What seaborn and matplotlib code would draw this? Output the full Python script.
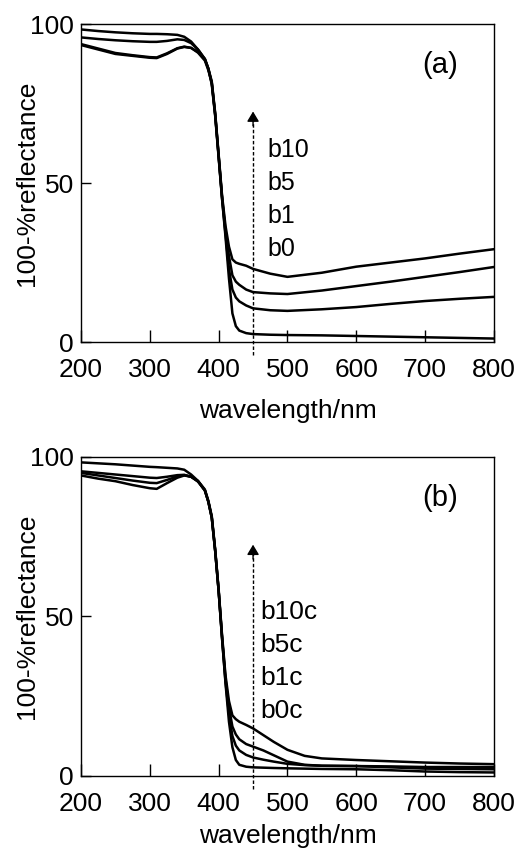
import matplotlib
matplotlib.use("Agg")
import matplotlib.pyplot as plt
import seaborn as sns
import pandas as pd

# ---------------- data ----------------
wl_a = [200, 225, 250, 275, 300, 310, 325, 340, 350, 360, 370, 380, 385, 390, 395, 400,
        405, 410, 415, 420, 425, 430, 440, 450, 475, 500, 550, 600, 650, 700, 750, 800]
b0 = [98.3, 97.8, 97.4, 97.1, 96.9, 96.9, 96.8, 96.6, 96.0, 94.5, 92.0, 89.0, 86.0, 81.0, 71.0, 58.0,
      45.0, 33.0, 20.0, 9.0, 5.0, 3.6, 2.8, 2.5, 2.3, 2.2, 2.1, 1.9, 1.7, 1.5, 1.3, 1.1]
b1 = [95.8, 95.3, 94.9, 94.6, 94.4, 94.4, 94.7, 95.2, 95.0, 94.0, 92.0, 89.0, 86.0, 81.5, 71.5, 58.5,
      45.0, 34.0, 23.0, 16.5, 14.0, 12.8, 11.5, 10.6, 10.0, 9.8, 10.3, 11.0, 12.0, 12.9, 13.6, 14.2]
b5 = [93.7, 92.3, 90.9, 90.2, 89.6, 89.5, 90.8, 92.4, 92.9, 92.5, 91.0, 88.5, 85.5, 81.5, 71.5, 58.5,
      45.5, 35.0, 27.0, 21.0, 19.0, 18.0, 16.5, 15.7, 15.3, 15.1, 16.2, 17.6, 19.0, 20.5, 22.0, 23.6]
b10 = [93.4, 92.0, 90.6, 90.0, 89.4, 89.3, 90.6, 92.3, 92.8, 92.5, 91.2, 89.0, 86.0, 82.0, 72.0, 59.0,
       46.0, 36.5, 30.0, 26.0, 25.0, 24.6, 24.0, 23.0, 21.5, 20.5, 21.8, 23.7, 25.0, 26.3, 27.8, 29.2]

wl_b = [200, 225, 250, 275, 300, 310, 325, 340, 350, 360, 370, 380, 385, 390, 395, 400, 405, 410,
        415, 420, 425, 430, 440, 450, 465, 480, 500, 525, 550, 600, 650, 700, 750, 800]
b0c = [98.3, 98.0, 97.7, 97.3, 96.9, 96.8, 96.6, 96.4, 96.0, 94.5, 92.5, 89.5, 86.0, 81.0, 70.5, 58.0, 43.0, 29.0,
       17.0, 9.0, 5.0, 3.5, 2.9, 2.7, 2.6, 2.5, 2.4, 2.3, 2.2, 2.1, 1.8, 1.4, 1.2, 1.1]
b1c = [95.5, 95.0, 94.5, 94.0, 93.5, 93.4, 93.8, 94.3, 94.4, 93.8, 92.3, 89.5, 86.0, 81.0, 70.5, 58.0, 43.0, 29.5,
       19.5, 12.5, 9.5, 8.0, 6.6, 5.8, 5.1, 4.5, 3.8, 3.4, 3.2, 3.1, 2.7, 2.3, 2.2, 2.1]
b5c = [95.0, 94.2, 93.4, 92.6, 91.9, 91.8, 92.8, 93.9, 94.3, 93.8, 92.3, 89.5, 86.0, 81.0, 70.5, 58.0, 43.5, 30.5,
       21.5, 15.5, 13.0, 11.5, 10.0, 9.2, 8.0, 6.5, 4.5, 3.5, 3.2, 3.1, 3.0, 2.8, 2.8, 2.8]
b10c = [94.2, 93.2, 92.4, 91.2, 90.2, 90.0, 91.8, 93.5, 94.2, 93.8, 92.5, 89.8, 86.3, 81.5, 71.0, 58.5, 44.0, 31.5,
        23.5, 19.0, 17.8, 17.0, 16.0, 14.9, 12.8, 10.7, 8.2, 6.3, 5.5, 5.0, 4.6, 4.2, 3.9, 3.7]

labels_a = ["b10", "b5", "b1", "b0"]
labels_b = ["b10c", "b5c", "b1c", "b0c"]
label_y_a = [60.4, 50.0, 39.6, 29.2]
label_y_b = [51.4, 41.0, 30.7, 20.3]
xticks = [200, 300, 400, 500, 600, 700, 800]
yticks = [0, 50, 100]
xlabel = "wavelength/nm"
ylabel = "100-%reflectance"

# ---------------- style ----------------
sns.set_theme(style="ticks")
plt.rcParams["font.family"] = ["Liberation Sans", "DejaVu Sans"]
plt.rcParams["axes.linewidth"] = 1.0
plt.rcParams["axes.edgecolor"] = "black"

fig = plt.figure(figsize=(5.26, 8.5), dpi=100)
ax_a = fig.add_axes([0.154, 0.5976, 0.785, 0.3741])
ax_b = fig.add_axes([0.154, 0.0871, 0.785, 0.3753])


def build(wl, series, names):
    rows = []
    for name, vals in zip(names, series):
        for w, v in zip(wl, vals):
            rows.append({"wavelength": w, "value": v, "sample": name})
    return pd.DataFrame(rows)


df_a = build(wl_a, [b10, b5, b1, b0], labels_a)
df_b = build(wl_b, [b10c, b5c, b1c, b0c], labels_b)


def draw(ax, df, names, label_y, label_x, tag, label_fs, xlab_y):
    sns.lineplot(data=df, x="wavelength", y="value", hue="sample", hue_order=names,
                 palette=["black"] * len(names), estimator=None, sort=False,
                 linewidth=1.8, legend=False, ax=ax)
    ax.set_xlim(200, 800)
    ax.set_ylim(0, 100)
    ax.set_xticks(xticks)
    ax.set_yticks(yticks)
    ax.tick_params(axis="x", direction="in", length=9, width=1.0, pad=11.5,
                   labelsize=19, colors="black")
    ax.tick_params(axis="y", direction="in", length=7, width=1.0, pad=5,
                   labelsize=19, colors="black")
    for s in ax.spines.values():
        s.set_visible(True)
        s.set_color("black")
        s.set_linewidth(1.0)
    ax.set_xlabel(xlabel, fontsize=19, color="black")
    ax.set_ylabel(ylabel, fontsize=19, color="black")
    ax.xaxis.set_label_coords(0.5, xlab_y)
    ax.yaxis.set_label_coords(-0.102, 0.5)
    # dashed arrow
    ax.plot([450, 450], [-4, 70], color="black", lw=1.0, ls=(0, (2.5, 1.5)), clip_on=False)
    ax.annotate("", xy=(450, 72.5), xytext=(450, 68),
                arrowprops=dict(arrowstyle="-|>,head_length=0.5,head_width=0.3",
                                color="black", lw=1.0, mutation_scale=12,
                                shrinkA=0, shrinkB=0))
    for name, yv in zip(names, label_y):
        ax.text(label_x, yv, name, fontsize=label_fs, ha="left", va="center", color="black")
    ax.text(722, 87.1, tag, fontsize=21, ha="center", va="center", color="black")


draw(ax_a, df_a, labels_a, label_y_a, 471, "(a)", 18, -0.179)
draw(ax_b, df_b, labels_b, label_y_b, 461, "(b)", 19, -0.150)

fig.savefig("out.png", dpi=100, facecolor="white")
